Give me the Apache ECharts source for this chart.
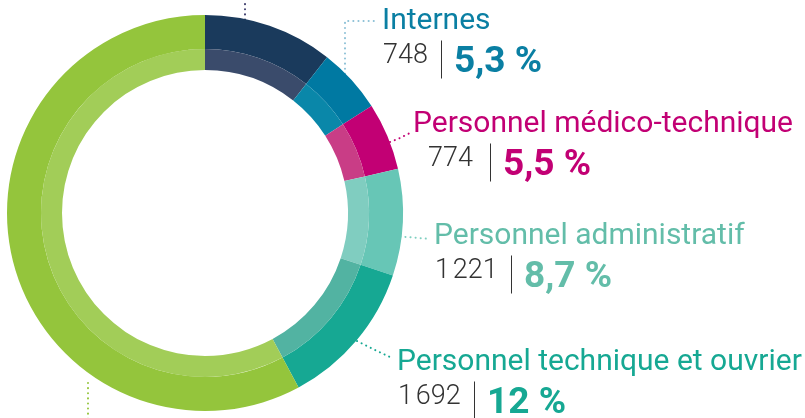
<!DOCTYPE html>
<html>
<head>
<meta charset="utf-8">
<script src="https://cdn.jsdelivr.net/npm/echarts@6/dist/echarts.min.js"></script>
<style>
html, body { margin: 0; padding: 0; background: #fff; }
#chart { width: 805px; height: 418px; }
</style>
</head>
<body>
<div id="chart"></div>
<script>
// données
const categories = ['Personnel médical', 'Internes', 'Personnel médico-technique', 'Personnel administratif', 'Personnel technique et ouvrier', 'Personnel soignant'];
const effectifs = [1485, 748, 774, 1221, 1692, 8120];
const effectifsTexte = ['1\u200a485', '748', '774', '1\u200a221', '1\u200a692', '8\u200a120'];
const pourcentages = ['10,5 %', '5,3 %', '5,5 %', '8,7 %', '12 %', '57,8 %'];

// couleurs
const couleurs = ['#1a3a5c', '#0079a2', '#c20074', '#67c6b6', '#16a893', '#94c53c'];
const couleursClaires = ['#3a4b6b', '#0a87a9', '#c93d86', '#80cdc0', '#52b3a2', '#a2cd58'];
const couleursTexte = ['#1a3a5c', '#0a7fa3', '#c20074', '#63bda9', '#16a893', '#94c53c'];
const couleursTrait = ['#3b3b6b', '#8cc0d6', '#c20074', '#7fcfc0', '#16a893', '#94c53c'];

// placement des étiquettes (coin haut-gauche) et traits pointillés
const posEtiquettes = [[200, -130], [382, 4], [413, 107], [434, 219], [397, 345], [40, 460]];
const traits = [
  [[245, 45], [245, 20], [245, -30]],
  [[345, 79], [345, 21], [376, 21]],
  [[390, 142], [400, 138], [410, 133]],
  [[385, 236], [408, 237], [430, 239]],
  [[357, 341], [375, 350], [392, 358]],
  [[88, 383], [88, 400], [88, 450]]
];
const retraitValeur = [0, 1, 15, 1, 1, 1];
const largeurValeur = [60, 58, 62, 76, 76, 76];

const police = 'Roboto, "Noto Sans", sans-serif';

const dataExt = categories.map((name, i) => ({
  name,
  value: effectifs[i],
  itemStyle: { color: couleurs[i] },
  labelLine: { lineStyle: { color: couleursTrait[i] } },
  label: {
    formatter: '{nom|' + name + '}\n{val|' + effectifsTexte[i] + '}{sep| }{pct|' + pourcentages[i] + '}',
    rich: {
      nom: { fontFamily: police, fontSize: 30, color: couleursTexte[i], lineHeight: 34 },
      val: { fontFamily: police, fontSize: 27, fontWeight: 300, color: '#333', width: largeurValeur[i], padding: [0, 0, 6, retraitValeur[i]] },
      sep: { width: 1, height: 38, backgroundColor: '#333' },
      pct: { fontFamily: police, fontSize: 37, fontWeight: 'bold', color: couleursTexte[i], padding: [6, 0, 0, 12] }
    }
  }
}));

const dataInt = categories.map((name, i) => ({
  name,
  value: effectifs[i],
  itemStyle: { color: couleursClaires[i] }
}));

const chart = echarts.init(document.getElementById('chart'));
chart.setOption({
  animation: false,
  series: [
    {
      type: 'pie',
      center: [205, 213],
      radius: [164, 198],
      startAngle: 90,
      clockwise: true,
      avoidLabelOverlap: false,
      label: { show: true, position: 'outside' },
      labelLine: { show: true, lineStyle: { width: 2, type: [0.1, 5], cap: 'round' } },
      labelLayout: function (params) {
        const i = params.dataIndex;
        return {
          x: posEtiquettes[i][0],
          y: posEtiquettes[i][1],
          align: 'left',
          verticalAlign: 'top',
          labelLinePoints: traits[i]
        };
      },
      emphasis: { disabled: true },
      data: dataExt
    },
    {
      type: 'pie',
      center: [205, 213],
      radius: [143, 164],
      startAngle: 90,
      clockwise: true,
      silent: true,
      label: { show: false },
      labelLine: { show: false },
      data: dataInt
    }
  ]
});
</script>
</body>
</html>
